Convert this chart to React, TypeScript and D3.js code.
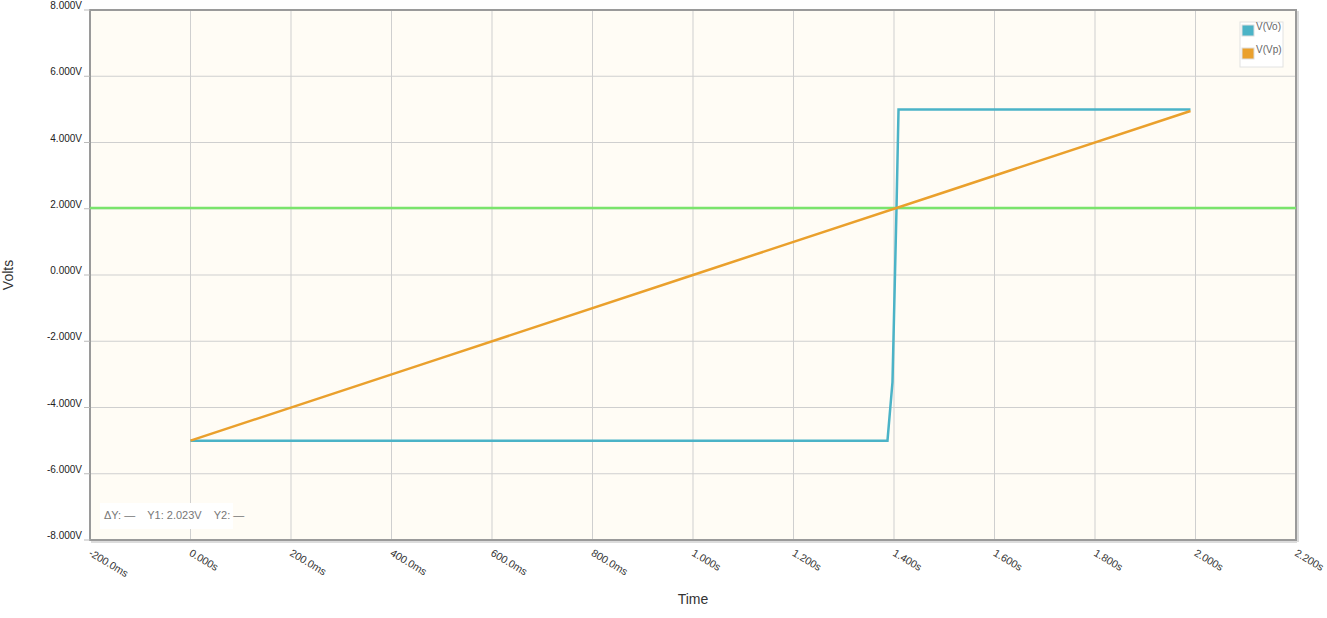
import React from "react";
import * as d3 from "d3";

const xTicks = [-0.2, 0, 0.2, 0.4, 0.6, 0.8, 1.0, 1.2, 1.4, 1.6, 1.8, 2.0, 2.2];
const xTickLabels = ["-200.0ms", "0.000s", "200.0ms", "400.0ms", "600.0ms", "800.0ms", "1.000s", "1.200s", "1.400s", "1.600s", "1.800s", "2.000s", "2.200s"];
const yTicks = [-8, -6, -4, -2, 0, 2, 4, 6, 8];
const yTickLabels = ["-8.000V", "-6.000V", "-4.000V", "-2.000V", "0.000V", "2.000V", "4.000V", "6.000V", "8.000V"];

const voTime = [0, 1.387, 1.397, 1.405, 1.409, 1.99];
const voValues = [-5, -5, -3.23, 2.02, 5, 5];
const vpTime = [0, 0.5, 1.0, 1.5, 1.99];
const vpValues = [-5, -2.5, 0, 2.5, 4.95];
const cursorY1 = 2.023;

const seriesNames = ["V(Vo)", "V(Vp)"];
const seriesColors = ["#4bb3c7", "#eaa02c"];

const W = 1327, H = 618;
const L = 90, T = 10, R = 1296, B = 540;

export default function App() {
  const x = d3.scaleLinear().domain([-0.2, 2.2]).range([L, R]);
  const y = d3.scaleLinear().domain([-8, 8]).range([B, T]);
  const line = d3.line<[number, number]>().x(d => x(d[0])).y(d => y(d[1]));
  const vo = voTime.map((t, i) => [t, voValues[i]] as [number, number]);
  const vp = vpTime.map((t, i) => [t, vpValues[i]] as [number, number]);
  const font = "Arial, 'Liberation Sans', sans-serif";
  return (
    <svg width={W} height={H} style={{ position: "fixed", left: 0, top: 0, background: "#fff" }} fontFamily={font}>
      <rect x={L} y={T} width={R - L} height={B - T} fill="#fffcf5" />
      {xTicks.map((t, i) => (
        <line key={"gx" + i} x1={x(t)} x2={x(t)} y1={T} y2={B} stroke="#cfcfcf" strokeWidth={1} />
      ))}
      {yTicks.map((v, i) => (
        <line key={"gy" + i} x1={L} x2={R} y1={y(v)} y2={y(v)} stroke="#cfcfcf" strokeWidth={1} />
      ))}
      <rect x={L} y={T} width={R - L} height={B - T} fill="none" stroke="#9a9a9a" strokeWidth={2} />
      <line x1={L + 1} x2={R + 1} y1={B + 2} y2={B + 2} stroke="#d0d0d0" strokeWidth={1.5} />
      <line x1={R + 2} x2={R + 2} y1={T + 1} y2={B + 2} stroke="#d0d0d0" strokeWidth={1.5} />
      {yTicks.map((v, i) => (
        <g key={"yt" + i}>
          <line x1={L - 6} x2={L} y1={y(v)} y2={y(v)} stroke="#bbb" strokeWidth={1} />
          <text x={L - 8} y={y(v) - 1} textAnchor="end" fontSize={10} fill="#222">{yTickLabels[i]}</text>
        </g>
      ))}
      {xTicks.map((t, i) => (
        <text key={"xt" + i} transform={`translate(${x(t) - 2},${B + 15}) rotate(31)`} fontSize={10.5} fill="#333">{xTickLabels[i]}</text>
      ))}
      <text transform={`translate(13,${(T + B) / 2}) rotate(-90)`} textAnchor="middle" fontSize={14} fill="#333">Volts</text>
      <text x={(L + R) / 2} y={604} textAnchor="middle" fontSize={14} fill="#333">Time</text>
      <line x1={L} x2={R} y1={y(cursorY1)} y2={y(cursorY1)} stroke="#7ae46c" strokeWidth={2.5} />
      <path d={line(vo) || ""} fill="none" stroke={seriesColors[0]} strokeWidth={2.5} strokeLinejoin="miter" />
      <path d={line(vp) || ""} fill="none" stroke={seriesColors[1]} strokeWidth={2.5} />
      <rect x={1240} y={22} width={43} height={45} fill="#fff" stroke="#e2e2e2" strokeWidth={1} />
      {seriesNames.map((n, i) => (
        <g key={"lg" + i}>
          <rect x={1242} y={25 + i * 23} width={12} height={11} fill={seriesColors[i]} stroke="#ddd" strokeWidth={1} />
          <text x={1256} y={30 + i * 23} fontSize={10} fill="#666">{n}</text>
        </g>
      ))}
      <rect x={100} y={503} width={133} height={26} fill="#fff" />
      <text x={104} y={519} fontSize={11} fill="#777" xmlSpace="preserve">{"ΔY: —    Y1: " + cursorY1.toFixed(3) + "V    Y2: —"}</text>
    </svg>
  );
}
